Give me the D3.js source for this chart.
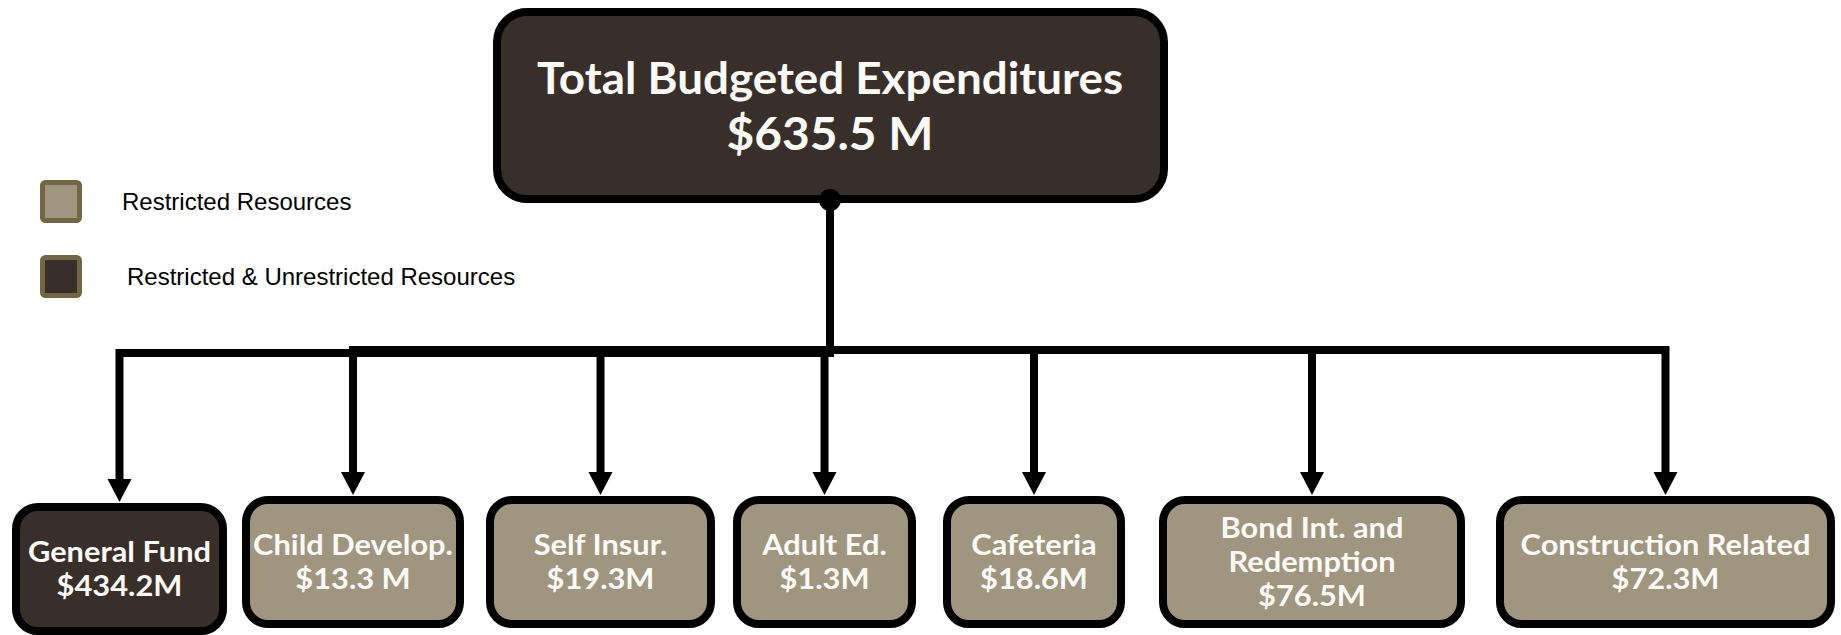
<!DOCTYPE html>
<meta charset="utf-8">
<style>
body { margin: 0; background: #fff; }
.box text { fill: #fbfaf6; font-family: Lato, "Open Sans", sans-serif; font-weight: 700; }
.legend text { font-family: "Liberation Sans", Arial, sans-serif; font-size: 24px; fill: #000; }
.links path { fill: none; stroke: #000; }
</style>
<svg width="1841" height="635"></svg>
<script src="https://cdn.jsdelivr.net/npm/d3@7"></script>
<script>
// data
var totalTitle = "Total Budgeted Expenditures",
    totalLabel = "$635.5 M";
var funds = ["General Fund", "Child Develop.", "Self Insur.", "Adult Ed.", "Cafeteria", "Bond Int. and|Redemption", "Construction Related"];
var amounts = ["$434.2M", "$13.3 M", "$19.3M", "$1.3M", "$18.6M", "$76.5M", "$72.3M"];
var resources = ["mixed", "restricted", "restricted", "restricted", "restricted", "restricted", "restricted"];
var legendKeys = ["restricted", "mixed"],
    legendLabels = ["Restricted Resources", "Restricted & Unrestricted Resources"];

// layout
var boxWidths = [215, 222, 229, 183, 182, 306, 339],
    boxGaps = [15, 22, 18, 27, 34, 31],
    leftEdge = 12;

var svg = d3.select("svg"),
    width = +svg.attr("width"),
    height = +svg.attr("height");

var fill = d3.scaleOrdinal().domain(["restricted", "mixed"]).range(["#a09680", "#382f2a"]);

// place the fund boxes one after another
var x0 = leftEdge;
var nodes = funds.map(function(f, i) {
  var n = { lines: f.split("|").concat([amounts[i]]), kind: resources[i], x: x0, w: boxWidths[i] };
  x0 += boxWidths[i] + (boxGaps[i] || 0);
  n.cx = n.x + n.w / 2;
  n.top = n.kind === "mixed" ? 503 : 496;
  n.h = 132;
  return n;
});

var root = { x: 493, y: 8, w: 675, h: 195 };
root.cx = 830;
var busY = 350;

// widen the text a little, the original face is broader than Lato
function stretch(sel, k) {
  sel.each(function() {
    var w = this.getComputedTextLength();
    d3.select(this).attr("textLength", w * k).attr("lengthAdjust", "spacingAndGlyphs");
  });
}

// legend
var legend = svg.append("g").attr("class", "legend")
  .selectAll("g").data(legendKeys).enter().append("g")
    .attr("transform", function(d, i) { return "translate(40," + (180 + i * 75) + ")"; });
legend.append("rect")
    .attr("x", 2.5).attr("y", 2.5).attr("width", 37).attr("height", 38).attr("rx", 3)
    .attr("fill", function(d) { return fill(d); })
    .attr("stroke", "#736642").attr("stroke-width", 5);
legend.append("text")
    .attr("x", function(d, i) { return i ? 87 : 82; })
    .attr("y", 30)
    .text(function(d, i) { return legendLabels[i]; });

// connectors
var links = svg.append("g").attr("class", "links");
links.append("path").attr("stroke-width", 8)
    .attr("d", "M" + root.cx + "," + (root.y + root.h) + "V" + (busY + 7));
links.append("path").attr("stroke-width", 8)
    .attr("d", "M" + nodes[0].cx + "," + (nodes[0].top - 20) + "V" + (busY + 3) + "H" + root.cx);
links.append("path").attr("stroke-width", 11)
    .attr("d", "M" + (nodes[1].cx - 4) + "," + (busY + 1.5) + "H" + (root.cx + 4));
links.append("path").attr("stroke-width", 8)
    .attr("d", "M" + nodes[1].cx + "," + busY + "H" + nodes[6].cx + "V" + (nodes[6].top - 20));
links.selectAll(".drop").data(nodes.slice(1, 6)).enter().append("path")
    .attr("stroke-width", 8)
    .attr("d", function(d) { return "M" + d.cx + "," + busY + "V" + (d.top - 20); });
links.selectAll(".head").data(nodes).enter().append("path")
    .style("fill", "#000").style("stroke", "none")
    .attr("d", function(d) {
      return "M" + (d.cx - 12) + "," + (d.top - 24) + "H" + (d.cx + 12) + "L" + d.cx + "," + (d.top - 1) + "Z";
    });

// root box
var rootBox = svg.append("g").attr("class", "box");
rootBox.append("rect")
    .attr("x", root.x + 4).attr("y", root.y + 4)
    .attr("width", root.w - 8).attr("height", root.h - 8)
    .attr("rx", 30)
    .attr("fill", fill("mixed")).attr("stroke", "#000").attr("stroke-width", 8);
rootBox.selectAll("text").data([totalTitle, totalLabel]).enter().append("text")
    .attr("x", root.cx)
    .attr("y", function(d, i) { return 94 + i * 56; })
    .attr("text-anchor", "middle")
    .attr("font-size", function(d, i) { return i ? 46 : 44; })
    .text(function(d) { return d; })
    .call(stretch, 1.04);
rootBox.append("circle").attr("cx", root.cx).attr("cy", root.y + root.h - 3).attr("r", 11).attr("fill", "#000");

// fund boxes
var box = svg.append("g").selectAll("g").data(nodes).enter().append("g").attr("class", "box");
box.append("rect")
    .attr("x", function(d) { return d.x + 4; })
    .attr("y", function(d) { return d.top + 4; })
    .attr("width", function(d) { return d.w - 8; })
    .attr("height", function(d) { return d.h - 8; })
    .attr("rx", 22)
    .attr("fill", function(d) { return fill(d.kind); })
    .attr("stroke", "#000").attr("stroke-width", 8);
box.each(function(d) {
  var g = d3.select(this),
      cy = d.top + d.h / 2,
      first = cy - (d.lines.length - 1) * 17 + 10;
  g.selectAll("text").data(d.lines).enter().append("text")
      .attr("x", d.cx)
      .attr("y", function(t, i) { return first + i * 34; })
      .attr("text-anchor", "middle")
      .attr("font-size", 28)
      .text(function(t) { return t; })
      .call(stretch, 1.1);
});
</script>
